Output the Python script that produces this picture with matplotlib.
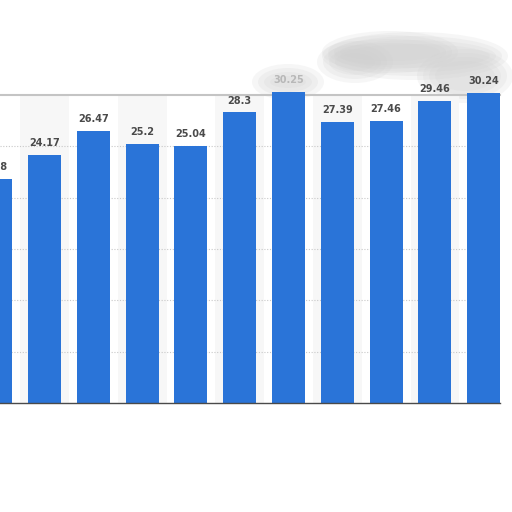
import numpy as np
import matplotlib
matplotlib.use("Agg")
import matplotlib.pyplot as plt
from matplotlib.patches import Ellipse

# bar values (first bar is cut off at the left edge)
values = [21.8, 24.17, 26.47, 25.2, 25.04, 28.3, 30.25, 27.39, 27.46, 29.46, 30.24]
labels = ["21.8", "24.17", "26.47", "25.2", "25.04", "28.3", "30.25", "27.39", "27.46", "29.46", "30.24"]
grid_vals = [5, 10, 15, 20, 25]

bar_color = "#2a74d8"
text_color = "#4a4a4a"

fig = plt.figure(figsize=(5.12, 5.12), dpi=100)
ax = fig.add_axes([0.0, 109/512, 500/512, 308/512])
ax.set_zorder(1)
ax.patch.set_alpha(0)

x = np.arange(len(values))

# faint alternating column bands
for i in x:
    if i % 2 == 1:
        ax.axvspan(i - 0.5, i + 0.5, color="#f7f7f7", zorder=0, lw=0)

for g in grid_vals:
    ax.axhline(g, color="#c8c8c8", lw=0.8, ls=(0, (1, 1.5)), zorder=1)

bars = ax.bar(x, values, width=0.676, color=bar_color, zorder=3, clip_on=False)

for i, (v, lab) in enumerate(zip(values, labels)):
    col = text_color
    if i == 6:
        col = "#b8b8b8"   # label hidden under the smudge
    ax.annotate(lab, (i, v), xytext=(0, 5), textcoords="offset points",
                ha="center", va="bottom", fontsize=7, fontweight="bold",
                color=col, annotation_clip=False, zorder=4)

ax.set_xlim(0.088, 10.334)
ax.set_ylim(0, 30.0)
ax.set_xticks([])
ax.set_yticks([])

for s in ["left", "right"]:
    ax.spines[s].set_visible(False)
ax.spines["top"].set_color("#c4c4c4")
ax.spines["top"].set_linewidth(1.5)
ax.spines["top"].set_zorder(2)
ax.spines["bottom"].set_color("#4a4a4a")
ax.spines["bottom"].set_linewidth(1.0)
ax.spines["bottom"].set_zorder(4)

# blurred grey smudge at the top right of the reference
blobs = [(415, 56, 150, 24), (390, 52, 100, 18), (465, 76, 60, 30), (355, 62, 40, 18), (288, 82, 36, 12)]
for cx, cy, w, h in blobs:
    for k in range(4):
        e = Ellipse((cx/512, 1 - cy/512), (w + 12*k)/512, (h + 8*k)/512,
                    transform=fig.transFigure, color="#cfcfcf", alpha=0.18, lw=0, zorder=0)
        fig.patches.append(e)

fig.savefig("out.png", dpi=100)
